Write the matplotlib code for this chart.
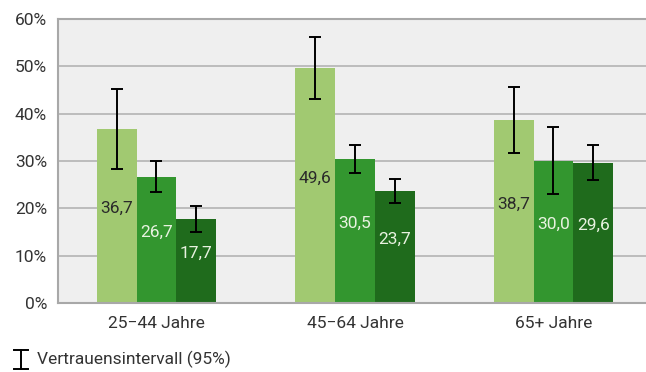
import matplotlib.pyplot as plt
import numpy as np
from matplotlib.lines import Line2D

# ── data ──────────────────────────────────────
groups = ["25\u221244 Jahre", "45\u221264 Jahre", "65+ Jahre"]
light = [36.7, 49.6, 38.7]
mid = [26.7, 30.5, 30.0]
dark = [17.7, 23.7, 29.6]

light_lo = [28.4, 43.1, 31.7]
light_hi = [45.2, 56.3, 45.7]
mid_lo = [23.5, 27.5, 23.0]
mid_hi = [30.0, 33.4, 37.1]
dark_lo = [15.1, 21.1, 25.9]
dark_hi = [20.4, 26.2, 33.3]

yticks = [0, 10, 20, 30, 40, 50, 60]

# ── style ─────────────────────────────────────
plt.rcParams['font.family'] = ['Roboto', 'DejaVu Sans']
text_col = "#333333"
colors = ["#a1c971", "#33962f", "#1f6b1c"]
label_cols = ["#2a2a2a", "#e8f2e0", "#e8f2e0"]
fs = 12.5

fig = plt.figure(figsize=(6.46, 3.72), dpi=100)
ax = fig.add_axes([58 / 646, 69 / 372, 1 - 58 / 646, 284 / 372])
ax.set_facecolor("#efefef")

x = np.arange(len(groups))
w = 0.2
series = [
    (light, light_lo, light_hi),
    (mid, mid_lo, mid_hi),
    (dark, dark_lo, dark_hi),
]
for i, (vals, lo, hi) in enumerate(series):
    xs = x + (i - 1) * w
    ax.bar(xs, vals, width=w, color=colors[i], zorder=2)
    vals_a = np.array(vals)
    err = [vals_a - np.array(lo), np.array(hi) - vals_a]
    ax.errorbar(xs, vals, yerr=err, fmt="none", ecolor="black",
                elinewidth=1.4, capsize=4.5, capthick=1.4, zorder=3)
    for xi, v in zip(xs, vals):
        ax.text(xi, v / 2 + 1.6, f"{v:.1f}".replace(".", ","),
                ha="center", va="center", fontsize=fs,
                color=label_cols[i], zorder=4)

ax.set_xlim(-0.496, 2.466)
ax.set_ylim(0, 60)
ax.set_yticks(yticks)
ax.set_yticklabels([f"{t}%" for t in yticks])
ax.set_xticks(x)
ax.set_xticklabels(groups)
ax.yaxis.grid(True, color="#b4b4b4", linewidth=1.2, zorder=1)
ax.set_axisbelow(True)
ax.tick_params(length=0, labelsize=fs, labelcolor=text_col)
ax.tick_params(axis="y", pad=8)
ax.tick_params(axis="x", pad=9)

for side in ["left", "bottom", "top"]:
    ax.spines[side].set_color("#a8a8a8")
    ax.spines[side].set_linewidth(1.5)
ax.spines["right"].set_visible(False)

# legend entry for the confidence interval
fig.text(37 / 646, 1 - 359 / 372, "Vertrauensintervall (95%)",
         ha="left", va="center", fontsize=fs, color=text_col)
fig.add_artist(Line2D([21 / 646, 21 / 646], [1 - 350 / 372, 1 - 369 / 372],
                      color="black", lw=1.4))
fig.add_artist(Line2D([14 / 646, 28 / 646], [1 - 350 / 372, 1 - 350 / 372],
                      color="black", lw=1.4))
fig.add_artist(Line2D([14 / 646, 28 / 646], [1 - 369 / 372, 1 - 369 / 372],
                      color="black", lw=1.4))

fig.savefig("out.png", dpi=100)
